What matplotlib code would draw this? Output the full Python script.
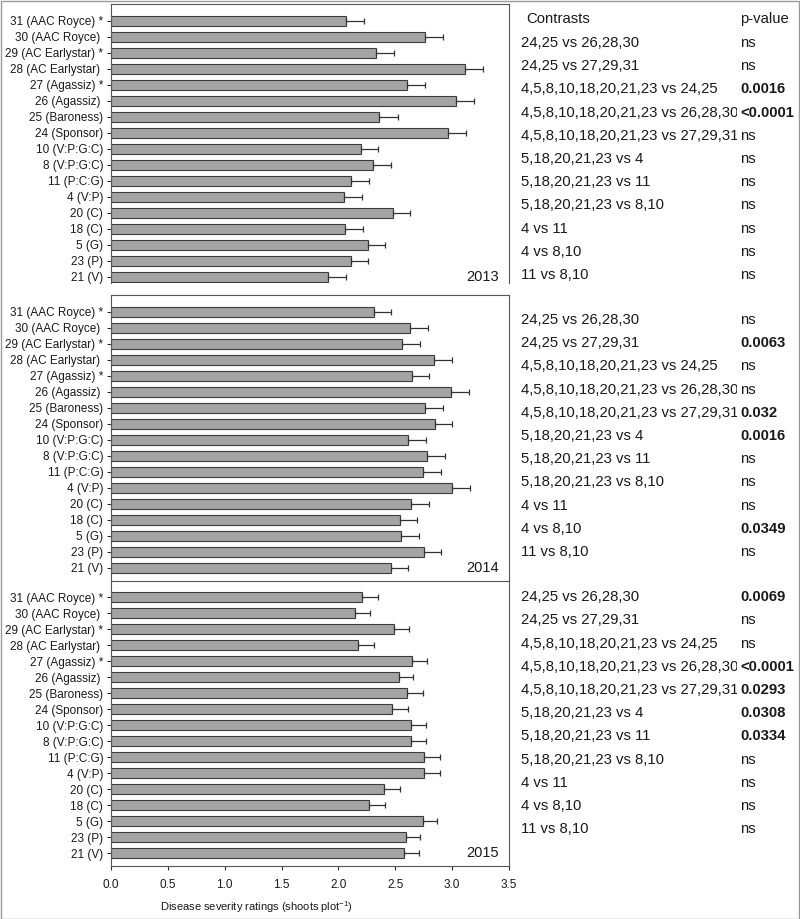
import numpy as np
import matplotlib.pyplot as plt
from matplotlib.patches import Rectangle
from matplotlib.transforms import Bbox, TransformedBbox, blended_transform_factory

plt.rcParams['font.family'] = ['Liberation Sans', 'DejaVu Sans']
plt.rcParams['mathtext.fontset'] = 'custom'
plt.rcParams['mathtext.rm'] = 'Liberation Sans'
plt.rcParams['mathtext.default'] = 'regular'

# treatments, top to bottom (same order in every year)
labels = ['31 (AAC Royce) *', '30 (AAC Royce) ', '29 (AC Earlystar) *', '28 (AC Earlystar) ',
          '27 (Agassiz) *', '26 (Agassiz) ', '25 (Baroness)', '24 (Sponsor)',
          '10 (V:P:G:C)', '8 (V:P:G:C)', '11 (P:C:G)', '4 (V:P)', '20 (C)', '18 (C)',
          '5 (G)', '23 (P)', '21 (V)']
years = ['2013', '2014', '2015']

mean_2013 = [2.07, 2.76, 2.33, 3.11, 2.60, 3.03, 2.36, 2.96, 2.20, 2.30, 2.11, 2.05, 2.48, 2.06, 2.26, 2.11, 1.91]
se_2013 = [0.155, 0.16, 0.155, 0.16, 0.157, 0.16, 0.16, 0.16, 0.15, 0.16, 0.16, 0.16, 0.15, 0.16, 0.15, 0.15, 0.16]
mean_2014 = [2.31, 2.63, 2.56, 2.84, 2.65, 2.99, 2.76, 2.85, 2.61, 2.78, 2.74, 3.00, 2.64, 2.54, 2.55, 2.75, 2.46]
se_2014 = [0.15, 0.16, 0.16, 0.16, 0.15, 0.16, 0.16, 0.15, 0.16, 0.16, 0.16, 0.16, 0.16, 0.15, 0.16, 0.15, 0.15]
mean_2015 = [2.21, 2.15, 2.49, 2.17, 2.65, 2.53, 2.60, 2.47, 2.64, 2.64, 2.75, 2.75, 2.40, 2.27, 2.74, 2.59, 2.58]
se_2015 = [0.14, 0.13, 0.13, 0.14, 0.13, 0.13, 0.14, 0.14, 0.13, 0.13, 0.14, 0.14, 0.14, 0.14, 0.13, 0.13, 0.13]

contrasts = ['24,25 vs 26,28,30', '24,25 vs 27,29,31',
             '4,5,8,10,18,20,21,23 vs 24,25', '4,5,8,10,18,20,21,23 vs 26,28,30',
             '4,5,8,10,18,20,21,23 vs 27,29,31', '5,18,20,21,23 vs 4',
             '5,18,20,21,23 vs 11', '5,18,20,21,23 vs 8,10',
             '4 vs 11', '4 vs 8,10', '11 vs 8,10']
pval_2013 = ['ns', 'ns', '0.0016', '<0.0001', 'ns', 'ns', 'ns', 'ns', 'ns', 'ns', 'ns']
pval_2014 = ['ns', '0.0063', 'ns', 'ns', '0.032', '0.0016', 'ns', 'ns', 'ns', '0.0349', 'ns']
pval_2015 = ['0.0069', 'ns', 'ns', '<0.0001', '0.0293', '0.0308', '0.0334', 'ns', 'ns', 'ns', 'ns']

means = [mean_2013, mean_2014, mean_2015]
ses = [se_2013, se_2014, se_2015]
pvals = [pval_2013, pval_2014, pval_2015]

W, H = 800, 919
fig = plt.figure(figsize=(W / 100, H / 100), dpi=100)


def fx(px):
    return px / W


def fy(py):
    return 1 - py / H


# panel top / bottom in pixels, y-limits, first table row
panels = [(4, 283, (16.375, -1.06), 43.0),
          (295, 581, (16.83, -1.04), 320.0),
          (581, 866, (16.79, -1.02), 597.3)]
row_step = 23.2
tab_fs = 10.7
txt_col = '#1a1a1a'
# contrasts column is cut off like a spreadsheet cell
clip = TransformedBbox(Bbox([[fx(515), 0], [fx(737), 1]]), fig.transFigure)

y = np.arange(len(labels))
for k, (top, bot, ylim, row0) in enumerate(panels):
    ax = fig.add_axes([fx(111), fy(bot), fx(509) - fx(111), (bot - top) / H])
    ax.barh(y, means[k], height=0.62, color='#a4a4a4', edgecolor='#3c3c3c', linewidth=0.8, zorder=2)
    ax.errorbar(means[k], y, xerr=[np.zeros(len(y)), ses[k]], fmt='none', ecolor='#333333',
                elinewidth=0.9, capsize=2.5, capthick=0.9, zorder=3)
    ax.set_xlim(0, 3.5)
    ax.set_ylim(ylim)
    ax.set_yticks(y)
    ax.set_yticklabels(labels, fontsize=8.5, color=txt_col)
    ax.tick_params(axis='y', length=3, width=0.8, pad=2.5, color='#333333')
    for s in ax.spines.values():
        s.set_color('#555555')
        s.set_linewidth(0.8)
    tr = blended_transform_factory(ax.transAxes, ax.transData)
    ax.text(0.975, 16, years[k], transform=tr, ha='right', va='center', fontsize=10.5, color=txt_col)
    if k < 2:
        ax.spines['bottom'].set_visible(False)
        ax.tick_params(axis='x', bottom=False, labelbottom=False)
    else:
        ax.set_xticks(np.arange(0, 3.51, 0.5))
        ax.set_xticklabels(['%.1f' % v for v in np.arange(0, 3.51, 0.5)], fontsize=8.5, color=txt_col)
        ax.tick_params(axis='x', length=3, width=0.8, pad=6, color='#333333')
        ax.set_xlabel('Disease severity ratings (shoots plot$^{-1}$)', fontsize=8, color=txt_col)
        ax.xaxis.set_label_coords((256.7 - 111) / 398, -0.115)

    # contrast table for this year
    if k == 0:
        fig.text(fx(526), fy(19), 'Contrasts', ha='left', va='center', fontsize=tab_fs, color=txt_col)
        fig.text(fx(740), fy(19), 'p-value', ha='left', va='center', fontsize=tab_fs, color=txt_col)
    for i, (c, p) in enumerate(zip(contrasts, pvals[k])):
        ry = row0 + i * row_step
        t = fig.text(fx(521), fy(ry), c, ha='left', va='center', fontsize=tab_fs, color=txt_col)
        t.set_clip_box(clip)
        t.set_clip_on(True)
        fig.text(fx(740), fy(ry), p, ha='left', va='center', fontsize=tab_fs, color=txt_col,
                 fontweight='normal' if p == 'ns' else 'bold')

# outer frame
fig.patches.append(Rectangle((fx(0.5), fy(918.5)), fx(799) - fx(0.5), 918 / H, transform=fig.transFigure,
                             fill=False, edgecolor='#9a9a9a', linewidth=1))

fig.savefig('out.png', dpi=100)
